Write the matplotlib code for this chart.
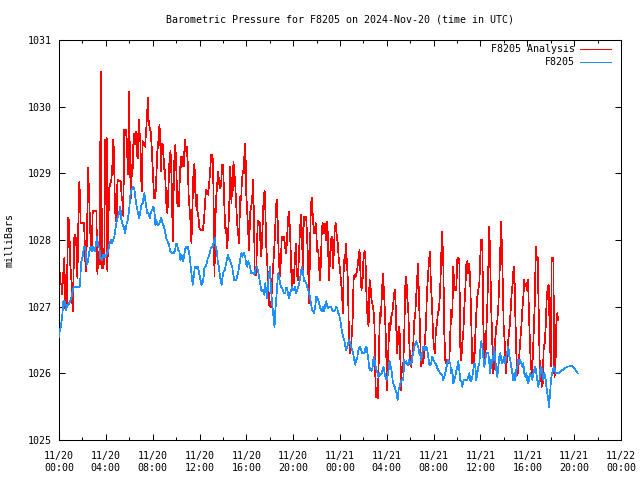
import matplotlib
matplotlib.use("Agg")
import matplotlib.pyplot as plt
from matplotlib.lines import Line2D

# ---------------- data ----------------
title = "Barometric Pressure for F8205 on 2024-Nov-20 (time in UTC)"
y_label = "milliBars"
series_names = ["F8205 Analysis", "F8205"]

# hours since 2024-11-20 00:00 UTC
tick_hours = [0, 4, 8, 12, 16, 20, 24, 28, 32, 36, 40, 44, 48]
tick_labels = ["11/20\n00:00", "11/20\n04:00", "11/20\n08:00", "11/20\n12:00",
               "11/20\n16:00", "11/20\n20:00", "11/21\n00:00", "11/21\n04:00",
               "11/21\n08:00", "11/21\n12:00", "11/21\n16:00", "11/21\n20:00",
               "11/22\n00:00"]
y_ticks = [1025, 1026, 1027, 1028, 1029, 1030, 1031]

red_hours = [
    0.00, 0.03, 0.06, 0.20, 0.26, 0.34, 0.46, 0.51, 0.66, 0.68, 0.77, 0.88, 0.94, 1.05,
    1.17, 1.23, 1.31, 1.40, 1.48, 1.57, 1.65, 1.74, 1.79, 1.85, 2.14, 2.28, 2.39, 2.48,
    2.56, 2.71, 2.79, 2.88, 3.19, 3.28, 3.36, 3.48, 3.56, 3.62, 3.68, 3.79, 3.87, 3.93,
    3.99, 4.07, 4.13, 4.22, 4.30, 4.47, 4.56, 4.64, 4.70, 4.76, 4.84, 4.93, 4.99, 5.27,
    5.36, 5.44, 5.50, 5.56, 5.64, 5.73, 5.81, 5.87, 5.93, 5.98, 6.04, 6.13, 6.18, 6.27,
    6.35, 6.44, 6.50, 6.58, 6.67, 6.72, 6.81, 6.87, 6.95, 7.04, 7.09, 7.15, 7.26, 7.35,
    7.44, 7.52, 7.61, 7.66, 7.75, 7.83, 7.92, 8.01, 8.12, 8.23, 8.32, 8.40, 8.49, 8.58,
    8.63, 8.72, 8.80, 8.89, 8.97, 9.06, 9.15, 9.26, 9.35, 9.43, 9.52, 9.57, 9.66, 9.71,
    9.77, 9.86, 9.94, 10.03, 10.11, 10.23, 10.31, 10.40, 10.48, 10.57, 10.66, 10.74,
    10.83, 10.91, 10.99, 11.08, 11.17, 11.25, 11.31, 11.40, 11.48, 11.57, 11.62, 11.68,
    11.77, 11.82, 11.91, 11.99, 12.11, 12.28, 12.39, 12.48, 12.56, 12.65, 12.73, 12.82,
    12.91, 12.99, 13.08, 13.16, 13.22, 13.28, 13.33, 13.42, 13.51, 13.59, 13.68, 13.76,
    13.85, 13.93, 14.02, 14.10, 14.19, 14.27, 14.36, 14.44, 14.53, 14.62,
    14.67, 14.73, 14.79, 14.84, 14.90, 14.96, 15.04, 15.13, 15.21, 15.30, 15.38, 15.47,
    15.56, 15.61, 15.70, 15.78, 15.87, 15.93, 15.98, 16.07, 16.15, 16.24, 16.32, 16.41,
    16.49, 16.58, 16.67, 16.72, 16.84, 16.90, 16.98, 17.07, 17.15, 17.24, 17.32, 17.41,
    17.49, 17.58, 17.64, 17.69, 17.78, 17.86, 17.95, 18.03, 18.12, 18.21, 18.29, 18.38,
    18.46, 18.55, 18.63, 18.69, 18.77, 18.86, 18.95, 19.03, 19.12, 19.20, 19.29, 19.37,
    19.46, 19.54, 19.63, 19.71, 19.80, 19.89, 19.97, 20.06, 20.14, 20.23, 20.31, 20.40,
    20.49, 20.57, 20.66, 20.74, 20.83, 20.91, 21.00, 21.11, 21.20, 21.28, 21.34, 21.42,
    21.51, 21.59, 21.68, 21.77, 21.85, 21.94,
    22.05, 22.14, 22.28, 22.37, 22.45, 22.54, 22.62, 22.71, 22.79, 22.88, 22.96, 23.05,
    23.13, 23.22, 23.31, 23.39, 23.48, 23.56, 23.65, 23.73, 23.82, 23.90, 23.99, 24.07,
    24.16, 24.25, 24.33, 24.42, 24.50, 24.59, 24.67, 24.76, 24.84, 24.93, 25.01, 25.07,
    25.16, 25.24, 25.33, 25.41, 25.50, 25.58, 25.67, 25.76, 25.84, 25.93, 26.01, 26.10,
    26.18, 26.27, 26.35, 26.44, 26.52, 26.61, 26.69, 26.78, 26.87, 26.95, 27.01, 27.07,
    27.15, 27.24, 27.32, 27.41, 27.49, 27.58, 27.66, 27.75, 27.84, 27.92, 28.01, 28.03,
    28.12, 28.21, 28.29, 28.38, 28.46, 28.55, 28.63, 28.72, 28.80, 28.89, 28.97, 29.03,
    29.12, 29.20, 29.29,
    29.40, 29.49, 29.57, 29.66, 29.74, 29.83, 29.91, 30.00, 30.09, 30.17, 30.26, 30.34,
    30.43, 30.51, 30.60, 30.68, 30.74, 30.83, 30.91, 31.00, 31.08, 31.17, 31.25, 31.34,
    31.42, 31.51, 31.60, 31.68, 31.77, 31.85, 31.94, 32.02, 32.11, 32.19, 32.28, 32.36,
    32.45, 32.54, 32.62, 32.71, 32.76, 32.82, 32.91, 32.99, 33.08, 33.16, 33.25, 33.33,
    33.42, 33.50, 33.59, 33.68, 33.76, 33.85, 33.93, 34.02, 34.10, 34.19, 34.27, 34.36,
    34.44, 34.53, 34.61, 34.70, 34.79, 34.87, 34.96, 35.04, 35.13, 35.21, 35.30, 35.38,
    35.47, 35.55, 35.64, 35.73, 35.81, 35.90, 35.98, 36.07, 36.15, 36.24, 36.32, 36.41,
    36.50, 36.58, 36.67, 36.75,
    36.84, 36.92, 37.01, 37.09, 37.18, 37.26, 37.35, 37.44, 37.52, 37.61, 37.69, 37.75,
    37.84, 37.89, 37.98, 38.06, 38.15, 38.23, 38.32, 38.40, 38.49, 38.58, 38.66, 38.75,
    38.83, 38.89, 38.97, 39.06, 39.15, 39.23, 39.32, 39.40, 39.49, 39.57, 39.66, 39.74,
    39.80, 39.89, 39.97, 40.06, 40.14, 40.23, 40.31, 40.40, 40.48, 40.57, 40.66, 40.71,
    40.80, 40.88, 40.97, 41.05, 41.14, 41.23, 41.31, 41.40, 41.48, 41.57, 41.65, 41.74,
    41.82, 41.91, 42.00, 42.08, 42.14, 42.22, 42.31, 42.39, 42.48, 42.56, 42.62,
]
red_mbar = [
    1027.93, 1028.33, 1027.38, 1027.33, 1027.18, 1027.43, 1027.73, 1026.98, 1027.63, 1027.03, 1028.33, 1028.28, 1027.68, 1027.43,
    1026.93, 1027.38, 1028.03, 1028.08, 1027.93, 1027.43, 1028.23, 1028.88, 1028.63, 1028.25, 1028.25, 1027.53, 1028.03, 1029.08,
    1028.73, 1027.93, 1027.83, 1028.43, 1028.43, 1027.48, 1027.83, 1027.63, 1030.52, 1028.98, 1027.58, 1027.58, 1027.78, 1029.50,
    1028.53, 1029.53, 1027.53, 1028.33, 1028.78, 1028.90, 1029.13, 1029.50, 1029.28, 1028.63, 1028.28, 1028.28, 1028.90, 1028.88,
    1028.63, 1028.58, 1028.35, 1029.65, 1029.58, 1029.65, 1029.45, 1028.98, 1029.28, 1030.23, 1029.40, 1028.63, 1029.13, 1028.95,
    1029.43, 1029.60, 1029.43, 1029.63, 1029.28, 1029.23, 1029.80, 1029.63, 1029.48, 1028.83, 1028.73, 1029.48, 1029.43, 1029.40,
    1029.63, 1029.88, 1030.13, 1029.78, 1029.68, 1029.63, 1029.38, 1029.03, 1028.63, 1028.63, 1028.98, 1029.33, 1029.48, 1029.73,
    1029.58, 1029.03, 1029.45, 1029.43, 1029.08, 1029.03, 1028.58, 1028.40, 1028.78, 1029.18, 1029.33, 1029.18, 1028.60, 1027.98,
    1028.58, 1029.25, 1029.43, 1029.00, 1028.53, 1028.50, 1028.88, 1029.25, 1029.10, 1029.25, 1029.10, 1029.50,
    1029.33, 1029.40, 1029.18, 1028.63, 1028.43, 1028.23, 1027.95, 1028.53, 1028.98, 1029.15, 1028.88, 1028.50,
    1028.68, 1028.43, 1028.35, 1028.18, 1028.15, 1028.15, 1028.30, 1028.58, 1028.75, 1028.73, 1028.68, 1028.83,
    1029.03, 1029.28, 1029.28, 1029.18, 1028.28, 1027.45, 1028.13, 1028.63, 1028.83, 1029.03, 1028.85, 1028.78,
    1028.83, 1029.13, 1029.13, 1028.63, 1028.18, 1028.18, 1027.88, 1028.08, 1028.43, 1029.10,
    1028.90, 1028.55, 1028.90, 1028.75, 1029.18, 1029.03, 1028.88, 1028.55, 1028.25, 1028.10, 1027.95, 1028.65,
    1028.60, 1028.85, 1029.03, 1029.00, 1029.45, 1029.35, 1028.73, 1028.45, 1028.15, 1027.85, 1028.40, 1028.50,
    1028.58, 1028.90, 1028.15, 1027.48, 1027.48, 1027.90, 1028.28, 1028.28, 1028.25, 1027.75, 1027.90, 1028.30,
    1028.70, 1028.73, 1028.35, 1027.95, 1027.65, 1027.40, 1027.03, 1027.00, 1027.00, 1027.40, 1027.60, 1027.85,
    1028.15, 1028.53, 1028.60, 1028.20, 1027.75, 1027.45, 1027.70, 1028.05, 1028.05, 1028.05, 1027.95, 1027.80,
    1027.95, 1028.25, 1028.43, 1028.20, 1027.78, 1027.25, 1027.55, 1027.35, 1027.68, 1027.95, 1027.50, 1027.40,
    1027.75, 1028.10, 1028.38, 1028.15, 1027.55, 1028.35, 1028.35, 1028.35, 1028.00, 1027.65, 1027.05, 1027.65,
    1028.53, 1028.63, 1028.35, 1028.10, 1028.15, 1028.25,
    1027.83, 1027.85, 1027.40, 1027.65, 1028.20, 1028.25, 1028.10, 1028.25, 1028.00, 1028.28, 1028.10, 1027.40,
    1027.65, 1028.00, 1028.05, 1027.58, 1027.83, 1028.20, 1028.25, 1028.05, 1027.93, 1027.70, 1027.58, 1027.40,
    1027.25, 1026.90, 1027.70, 1027.65, 1027.95, 1027.65, 1027.40, 1026.60, 1026.30, 1026.35, 1026.60, 1026.75,
    1027.40, 1027.48, 1027.45, 1027.50, 1027.60, 1027.73, 1027.85, 1027.45, 1027.25, 1027.40, 1027.75, 1027.83,
    1027.70, 1027.10, 1026.85, 1026.70, 1027.40, 1027.30, 1027.10, 1027.03, 1026.93, 1026.70, 1026.00, 1025.65,
    1025.65, 1025.63, 1026.30, 1026.90, 1026.85, 1027.20, 1027.50, 1027.25, 1026.90, 1026.50, 1025.90, 1025.75,
    1026.30, 1026.75, 1026.65, 1026.85, 1026.90, 1027.05, 1027.20, 1027.25, 1026.70, 1026.30, 1026.60, 1026.70,
    1026.55, 1025.75, 1026.10,
    1026.10, 1026.60, 1027.30, 1027.45, 1027.15, 1026.95, 1026.50, 1026.13, 1026.10, 1026.25, 1026.45, 1026.78,
    1026.90, 1027.15, 1027.45, 1027.65, 1027.10, 1026.70, 1026.10, 1026.25, 1026.15, 1026.25, 1026.50, 1026.70,
    1027.20, 1027.45, 1027.68, 1027.83, 1027.30, 1027.08, 1026.60, 1026.40, 1026.30, 1026.65, 1026.75, 1026.90,
    1026.95, 1027.20, 1027.60, 1028.13, 1027.95, 1027.70, 1026.60, 1026.20, 1026.15, 1026.20, 1026.20, 1026.15,
    1026.60, 1026.95, 1026.85, 1027.60, 1027.25, 1027.30, 1027.25, 1027.70, 1027.73, 1027.70, 1026.40, 1026.20,
    1026.45, 1026.60, 1026.95, 1027.25, 1027.63, 1027.68, 1027.50, 1027.65, 1027.33, 1026.75, 1026.15, 1026.30,
    1026.15, 1026.55, 1026.90, 1027.15, 1027.25, 1027.35, 1027.75, 1028.00, 1028.00, 1026.75, 1026.35, 1026.20,
    1026.65, 1027.00, 1027.60, 1028.20,
    1027.60, 1026.95, 1026.45, 1026.00, 1026.15, 1026.50, 1026.70, 1026.80, 1027.00, 1027.40, 1027.85, 1028.28,
    1027.85, 1027.45, 1026.70, 1026.50, 1026.00, 1026.15, 1026.40, 1026.55, 1026.70, 1026.95, 1027.20, 1027.35,
    1027.60, 1027.58, 1026.90, 1026.30, 1025.98, 1026.05, 1026.30, 1026.50, 1026.70, 1026.95, 1027.15, 1027.40,
    1027.30, 1027.35, 1027.25, 1027.40, 1026.90, 1026.40, 1026.10, 1026.00, 1026.30, 1026.75, 1027.15, 1027.90,
    1027.70, 1027.75, 1026.95, 1026.20, 1026.00, 1025.80, 1025.85, 1026.40, 1026.45, 1026.70, 1027.10, 1027.30,
    1027.33, 1026.65, 1026.10, 1027.73, 1027.73, 1027.73, 1025.95, 1026.00, 1026.75, 1026.90, 1026.80,
]

blue_hours = [
    0.00, 0.06, 0.14, 0.26, 0.37, 0.48, 0.60, 0.71, 0.83, 0.94, 1.05, 1.17, 1.28, 1.48,
    1.79, 1.88, 2.02, 2.14, 2.25, 2.36, 2.48, 2.59, 2.71, 2.82, 2.93, 3.05, 3.16, 3.25,
    3.33, 3.45, 3.53, 3.65, 3.79, 3.93, 4.07, 4.19, 4.30, 4.42, 4.53, 4.62, 4.73, 4.81,
    4.93, 5.04, 5.16, 5.24, 5.33, 5.44, 5.56, 5.64, 5.76, 5.87, 5.98, 6.07, 6.15, 6.27,
    6.35, 6.44, 6.55, 6.64, 6.75, 6.84, 6.95, 7.04, 7.15, 7.24,
    7.27, 7.35, 7.44, 7.55, 7.66, 7.75, 7.83, 7.95, 8.06, 8.15, 8.23, 8.32, 8.40, 8.52,
    8.63, 8.72, 8.80, 8.89, 8.97, 9.06, 9.15, 9.23, 9.32, 9.40, 9.49, 9.63, 9.80, 9.92,
    10.00, 10.09, 10.17, 10.28, 10.37, 10.46, 10.57, 10.66, 10.74, 10.83, 10.91, 10.99,
    11.08, 11.17, 11.25, 11.34, 11.42, 11.51, 11.60, 11.68, 11.77, 11.85, 11.94, 12.05,
    12.17, 12.25, 12.34, 12.42, 12.54, 12.62, 12.71, 12.79, 12.88, 12.96, 13.05, 13.13,
    13.22, 13.30, 13.39, 13.48, 13.56, 13.65, 13.73, 13.82, 13.90, 13.99, 14.07, 14.16,
    14.25, 14.33, 14.42, 14.50, 14.59,
    14.70, 14.79, 14.87, 14.96, 15.13, 15.21, 15.30, 15.38, 15.47, 15.56, 15.64, 15.73,
    15.81, 15.90, 15.98, 16.07, 16.15, 16.24, 16.32, 16.41, 16.49, 16.58, 16.67, 16.75,
    16.84, 16.92, 17.01, 17.09, 17.18, 17.26, 17.35, 17.44, 17.52, 17.61, 17.69, 17.78,
    17.86, 17.95, 18.03, 18.09, 18.18, 18.26, 18.35, 18.41, 18.46, 18.55, 18.63, 18.72,
    18.80, 18.89, 18.97, 19.06, 19.15, 19.23, 19.32, 19.40, 19.49, 19.57, 19.66, 19.74,
    19.83, 19.91, 20.00, 20.09, 20.17, 20.26, 20.34, 20.43, 20.51, 20.60, 20.68, 20.77,
    20.85, 20.94, 21.03, 21.11, 21.20, 21.28, 21.37, 21.45, 21.54, 21.62, 21.71, 21.79,
    21.88,
    21.97, 22.05, 22.14, 22.22, 22.31, 22.39, 22.48, 22.56, 22.65, 22.74, 22.82, 22.91,
    22.99, 23.11, 23.25, 23.33, 23.42, 23.50, 23.59, 23.68, 23.76, 23.85, 23.93, 24.02,
    24.10, 24.19, 24.27, 24.36, 24.45, 24.53, 24.62, 24.70, 24.79, 24.87, 24.96, 25.04,
    25.13, 25.21, 25.30, 25.38, 25.47, 25.55, 25.64, 25.73, 25.81, 25.90, 25.98, 26.10,
    26.18, 26.27, 26.35, 26.44, 26.52, 26.61, 26.69, 26.78, 26.87, 26.95, 27.04, 27.12,
    27.21, 27.29, 27.38, 27.47, 27.55, 27.64, 27.72, 27.81, 27.89, 27.98, 28.06, 28.15,
    28.23, 28.32, 28.40, 28.49, 28.58, 28.66, 28.75, 28.83, 28.92, 29.00, 29.09, 29.17,
    29.26,
    29.32, 29.40, 29.49, 29.57, 29.66, 29.74, 29.83, 29.91, 30.00, 30.09, 30.17, 30.26,
    30.34, 30.43, 30.51, 30.60, 30.68, 30.77, 30.85, 30.94, 31.02, 31.11, 31.20, 31.28,
    31.37, 31.45, 31.54, 31.62, 31.71, 31.79, 31.88, 31.97, 32.05, 32.14, 32.22, 32.31,
    32.39, 32.48, 32.56, 32.65, 32.74, 32.82, 32.91, 32.99, 33.08, 33.16, 33.25, 33.33,
    33.42, 33.50, 33.59, 33.68, 33.76, 33.85, 33.93, 34.02, 34.10, 34.19, 34.27, 34.36,
    34.44, 34.53, 34.61, 34.70, 34.79, 34.87, 34.96, 35.04, 35.13, 35.21, 35.30, 35.38,
    35.47, 35.55, 35.64, 35.73, 35.81, 35.90, 35.98, 36.07, 36.15, 36.24, 36.32, 36.41,
    36.50, 36.58,
    36.67, 36.75, 36.84, 36.92, 37.01, 37.09, 37.18, 37.26, 37.35, 37.44, 37.52, 37.61,
    37.69, 37.78, 37.86, 37.95, 38.03, 38.12, 38.20, 38.29, 38.38, 38.46, 38.55, 38.63,
    38.72, 38.80, 38.89, 38.97, 39.06, 39.15, 39.23, 39.32, 39.40, 39.49, 39.57, 39.66,
    39.74, 39.83, 39.91, 40.00, 40.09, 40.17, 40.26, 40.34, 40.43, 40.51, 40.60, 40.68,
    40.77, 40.85, 40.94, 41.03, 41.11, 41.20, 41.28, 41.37, 41.45, 41.54, 41.62, 41.71,
    41.79, 41.85, 41.94, 42.02, 42.11, 42.19, 42.28, 42.36, 42.45, 42.53, 42.65, 43.00,
    43.40, 43.80, 44.00, 44.30,
]
blue_mbar = [
    1026.55, 1026.63, 1026.68, 1026.83, 1027.08, 1027.08, 1026.95, 1027.03, 1027.03, 1027.08, 1027.13, 1027.23, 1027.30, 1027.30,
    1027.30, 1027.65, 1027.75, 1027.90, 1027.90, 1027.63, 1027.68, 1027.83, 1027.90, 1027.83, 1027.90, 1027.83, 1027.93, 1028.05,
    1027.93, 1027.88, 1027.73, 1027.70, 1027.78, 1027.75, 1027.78, 1027.83, 1027.93, 1028.00, 1027.95, 1028.00, 1028.05, 1028.15,
    1028.28, 1028.35, 1028.43, 1028.50, 1028.30, 1028.23, 1028.18, 1028.10, 1028.23, 1028.30, 1028.43, 1028.63, 1028.73, 1028.78,
    1028.80, 1028.75, 1028.60, 1028.50, 1028.40, 1028.33, 1028.43, 1028.53, 1028.55, 1028.68,
    1028.70, 1028.63, 1028.50, 1028.40, 1028.40, 1028.33, 1028.40, 1028.45, 1028.50, 1028.43, 1028.23, 1028.30, 1028.23, 1028.23,
    1028.28, 1028.33, 1028.28, 1028.23, 1028.20, 1028.13, 1028.03, 1028.00, 1027.95, 1027.93, 1027.83, 1027.80, 1027.80, 1027.85,
    1027.95, 1027.93, 1027.85, 1027.83, 1027.70, 1027.78, 1027.68, 1027.73, 1027.83, 1027.90, 1027.88, 1027.90,
    1027.83, 1027.75, 1027.60, 1027.45, 1027.33, 1027.45, 1027.60, 1027.60, 1027.58, 1027.60, 1027.53, 1027.43,
    1027.33, 1027.35, 1027.43, 1027.58, 1027.60, 1027.65, 1027.73, 1027.75, 1027.80, 1027.88, 1027.90, 1027.90,
    1027.98, 1028.03, 1027.88, 1027.83, 1027.68, 1027.60, 1027.48, 1027.38, 1027.33, 1027.48, 1027.53, 1027.55,
    1027.63, 1027.70, 1027.78, 1027.73, 1027.70,
    1027.65, 1027.60, 1027.50, 1027.40, 1027.40, 1027.45, 1027.50, 1027.60, 1027.70, 1027.80, 1027.75, 1027.80,
    1027.80, 1027.75, 1027.65, 1027.60, 1027.68, 1027.65, 1027.60, 1027.50, 1027.50, 1027.50, 1027.48, 1027.53,
    1027.60, 1027.60, 1027.53, 1027.45, 1027.35, 1027.25, 1027.23, 1027.25, 1027.18, 1027.35, 1027.23, 1027.13,
    1027.35, 1027.50, 1027.60, 1027.30, 1027.10, 1026.95, 1026.78, 1026.70, 1026.90, 1027.10, 1027.30, 1027.50,
    1027.43, 1027.35, 1027.30, 1027.28, 1027.23, 1027.20, 1027.20, 1027.28, 1027.28, 1027.18, 1027.13, 1027.20,
    1027.25, 1027.30, 1027.25, 1027.25, 1027.30, 1027.20, 1027.25, 1027.30, 1027.35, 1027.43, 1027.55, 1027.60,
    1027.50, 1027.38, 1027.38, 1027.35, 1027.30, 1027.25, 1027.20, 1027.13, 1027.03, 1026.95, 1026.93, 1026.90,
    1027.00,
    1027.15, 1027.15, 1027.10, 1027.05, 1026.98, 1026.95, 1026.93, 1027.00, 1026.93, 1027.03, 1027.08, 1027.00,
    1026.98, 1027.00, 1027.00, 1026.95, 1026.93, 1026.93, 1026.95, 1027.00, 1026.98, 1026.90, 1026.88, 1026.80,
    1026.70, 1026.60, 1026.55, 1026.50, 1026.40, 1026.35, 1026.40, 1026.45, 1026.50, 1026.45, 1026.40, 1026.35,
    1026.30, 1026.20, 1026.13, 1026.20, 1026.23, 1026.33, 1026.38, 1026.40, 1026.35, 1026.30, 1026.30, 1026.30,
    1026.38, 1026.40, 1026.30, 1026.18, 1026.05, 1026.08, 1026.03, 1026.08, 1026.25, 1026.20, 1026.10, 1026.05,
    1026.00, 1025.95, 1026.00, 1025.98, 1026.00, 1026.05, 1026.10, 1026.00, 1025.95, 1025.90, 1025.95, 1026.05,
    1026.18, 1026.10, 1026.05, 1025.90, 1025.83, 1025.80, 1025.75, 1025.70, 1025.60, 1025.75, 1025.80, 1025.85,
    1025.90,
    1025.90, 1025.90, 1026.20, 1026.15, 1026.18, 1026.13, 1026.13, 1026.20, 1026.15, 1026.13, 1026.25, 1026.30,
    1026.40, 1026.45, 1026.48, 1026.43, 1026.40, 1026.30, 1026.28, 1026.20, 1026.30, 1026.40, 1026.40, 1026.35,
    1026.40, 1026.35, 1026.25, 1026.13, 1026.13, 1026.15, 1026.25, 1026.20, 1026.18, 1026.15, 1026.13, 1026.08,
    1026.05, 1026.03, 1026.00, 1025.98, 1025.98, 1025.90, 1025.95, 1026.00, 1026.08, 1026.15, 1026.20, 1026.18,
    1026.15, 1026.00, 1026.05, 1025.85, 1025.90, 1025.95, 1026.03, 1026.10, 1026.18, 1026.05, 1025.90, 1025.88,
    1025.80, 1025.88, 1025.90, 1025.90, 1025.90, 1025.90, 1025.95, 1026.00, 1025.90, 1025.88, 1025.95, 1026.05,
    1026.15, 1026.13, 1025.90, 1026.00, 1026.10, 1026.15, 1026.35, 1026.48, 1026.40, 1026.25, 1026.10, 1026.20,
    1026.30, 1026.30,
    1026.30, 1026.15, 1026.00, 1026.20, 1026.15, 1026.25, 1026.40, 1026.20, 1026.05, 1025.95, 1026.10, 1026.25,
    1026.30, 1026.20, 1026.15, 1026.20, 1026.25, 1026.15, 1026.25, 1026.33, 1026.40, 1026.25, 1026.20, 1026.10,
    1026.00, 1025.90, 1026.00, 1025.90, 1026.05, 1026.10, 1026.20, 1026.15, 1026.20, 1026.15, 1026.10, 1026.15,
    1026.00, 1025.95, 1026.00, 1025.90, 1025.85, 1025.95, 1026.00, 1025.95, 1025.90, 1026.00, 1026.05, 1026.10,
    1026.00, 1025.90, 1025.80, 1025.90, 1026.05, 1026.10, 1026.00, 1025.90, 1026.00, 1025.95, 1025.80, 1025.70,
    1025.60, 1025.50, 1025.70, 1025.90, 1026.00, 1026.05, 1026.10, 1026.05, 1026.00, 1026.00, 1026.00, 1026.05,
    1026.10, 1026.11, 1026.08, 1026.00,
]

# ---------------- style ----------------
RED = "#ff0000"
BLUE = "#1e90ff"
FONT = "DejaVu Sans Mono"
FS = 7.2
LW = 0.5

plt.rcParams["font.family"] = FONT
plt.rcParams["font.size"] = FS

fig = plt.figure(figsize=(6.4, 4.8), dpi=100)
ax = fig.add_axes([59 / 640, 40 / 480, 562 / 640, 400 / 480])

ax.plot(red_hours, red_mbar, color=RED, lw=LW, antialiased=False, zorder=2)
ax.plot(blue_hours, blue_mbar, color=BLUE, lw=LW, antialiased=False, zorder=3)

ax.set_xlim(0, 48)
ax.set_ylim(1025, 1031)
ax.set_xticks(tick_hours)
ax.set_xticklabels(tick_labels, fontsize=FS, linespacing=1.25)
ax.set_xticks(list(range(2, 48, 4)), minor=True)
ax.set_yticks(y_ticks)
ax.set_yticklabels([str(v) for v in y_ticks], fontsize=FS)

ax.tick_params(axis="both", which="major", direction="in", length=4, width=0.75,
               top=True, right=True, color="black")
ax.tick_params(axis="both", which="minor", direction="in", length=2.5, width=0.75,
               top=True, right=True, color="black")
ax.tick_params(axis="x", which="major", pad=8)
ax.tick_params(axis="y", which="major", pad=5)
for sp in ax.spines.values():
    sp.set_linewidth(0.75)
    sp.set_color("black")

fig.text(340 / 640, 1 - 20 / 480, title, ha="center", va="center", fontsize=FS)
fig.text(10 / 640, 0.5, y_label, ha="center", va="center", rotation=90, fontsize=FS)

# legend (gnuplot style: right-aligned text, sample line to its right)
legend_rows = [(series_names[0], RED, 0.9775), (series_names[1], BLUE, 0.945)]
for name, col, yy in legend_rows:
    ax.text(0.918, yy, name, transform=ax.transAxes, ha="right", va="center", fontsize=FS)
    ax.add_line(Line2D([0.927, 0.982], [yy, yy], transform=ax.transAxes, color=col,
                       lw=LW, antialiased=False))

fig.savefig("out.png", dpi=100)
